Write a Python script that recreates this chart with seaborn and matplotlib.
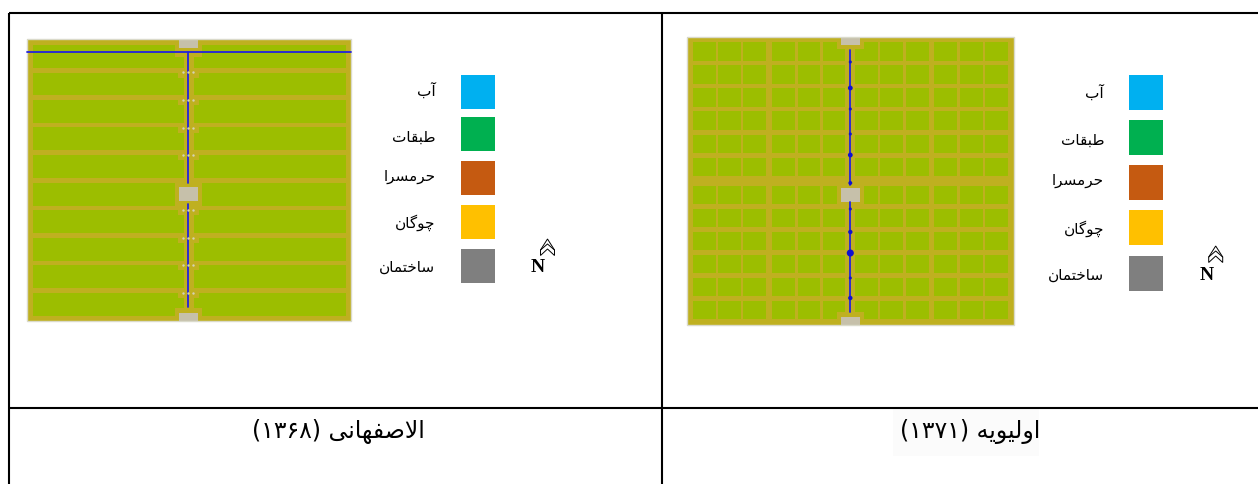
import numpy as np
import matplotlib
matplotlib.use("Agg")
import matplotlib.pyplot as plt
import seaborn as sns
from matplotlib.colors import ListedColormap
from matplotlib.patches import Rectangle, Polygon

# legend + captions
legend_labels = ["آب", "طبقات", "حرمسرا", "چوگان", "ساختمان"]
legend_colors = ["#00B0F0", "#00B050", "#C55A11", "#FFC000", "#7F7F7F"]
captions = ["الاصفهانی", "اولیویه"]
caption_years = ["(۱۳۶۸)", "(۱۳۷۱)"]

# left map, plots (page pixels)
left_box = (27, 351, 39, 321)
left_rows = [(45, 68), (73, 95), (100, 123), (127, 150), (155, 178),
             (183, 206), (210, 233), (238, 261), (265, 288), (293, 316)]
left_cols = [(33, 184), (194, 346)]
left_paths = [(175, 202, 39, 57), (175, 202, 308, 321), (175, 202, 178, 210),
              (178, 199, 68, 78), (178, 199, 95, 105), (178, 199, 123, 133),
              (178, 199, 150, 160), (178, 199, 206, 215), (178, 199, 233, 243),
              (178, 199, 261, 270), (178, 199, 288, 298)]
left_buildings = [(179, 198, 39, 48), (179, 198, 187, 201), (179, 198, 313, 321)]
left_canals = [[(27, 52), (351, 52)], [(188.3, 52), (188.3, 183)], [(188.3, 204), (188.3, 307)]]
left_dot_y = [72, 100, 127.5, 155, 210, 237.5, 265, 292.5]
left_dot_x = [183, 188, 193]

# right map
right_box = (687, 1014, 37, 325)
right_rows = [(42, 61), (65, 84), (88, 107), (111, 130), (135, 153), (158, 176),
              (186, 204), (209, 227), (232, 250), (255, 273), (278, 296), (301, 319)]
right_cols = [(693, 716), (718, 741), (743, 766), (772, 795), (798, 820), (823, 845),
              (855, 878), (880, 903), (906, 929), (934, 957), (960, 983), (985, 1008)]
right_paths = [(837, 864, 37, 49), (837, 864, 312, 325), (837, 864, 176, 204)]
right_buildings = [(841, 860, 37, 45), (841, 860, 188, 202), (841, 860, 317, 325)]
right_canals = [[(850.3, 50), (850.3, 185)], [(850.3, 202), (850.3, 312)]]
right_node_y = [62, 88, 109, 134, 155, 183, 209, 232, 253, 278, 298]
right_node_s = [5, 12, 5, 5, 12, 8, 5, 10, 26, 5, 10]

W, H = 1258, 484
PATH, GREEN, BUILDING = "#BFB020", "#9CBE00", "#C6C0AA"
EDGE, CANAL = "#DADACB", "#2222DD"

# presentation forms: isolated, final, initial, medial
FORMS = {
    "آ": (0xFE81, 0xFE82), "ا": (0xFE8D, 0xFE8E), "ر": (0xFEAD, 0xFEAE), "و": (0xFEED, 0xFEEE),
    "ب": (0xFE8F, 0xFE90, 0xFE91, 0xFE92), "ت": (0xFE95, 0xFE96, 0xFE97, 0xFE98),
    "ح": (0xFEA1, 0xFEA2, 0xFEA3, 0xFEA4), "خ": (0xFEA5, 0xFEA6, 0xFEA7, 0xFEA8),
    "س": (0xFEB1, 0xFEB2, 0xFEB3, 0xFEB4), "ص": (0xFEB9, 0xFEBA, 0xFEBB, 0xFEBC),
    "ط": (0xFEC1, 0xFEC2, 0xFEC3, 0xFEC4), "ف": (0xFED1, 0xFED2, 0xFED3, 0xFED4),
    "ق": (0xFED5, 0xFED6, 0xFED7, 0xFED8), "ل": (0xFEDD, 0xFEDE, 0xFEDF, 0xFEE0),
    "م": (0xFEE1, 0xFEE2, 0xFEE3, 0xFEE4), "ن": (0xFEE5, 0xFEE6, 0xFEE7, 0xFEE8),
    "ه": (0xFEE9, 0xFEEA, 0xFEEB, 0xFEEC), "ی": (0xFBFC, 0xFBFD, 0xFBFE, 0xFBFF),
    "چ": (0xFB7A, 0xFB7B, 0xFB7C, 0xFB7D), "گ": (0xFB92, 0xFB93, 0xFB94, 0xFB95),
}


def shape_fa(word):
    # matplotlib does no Arabic shaping, so pick the joined forms and reverse
    out = []
    joined = False
    i = 0
    while i < len(word):
        ch = word[i]
        if word[i:i + 2] == "لا":
            out.append(chr(0xFEFC if joined else 0xFEFB))
            joined = False
            i += 2
            continue
        forms = FORMS[ch]
        next_ok = len(forms) == 4 and i + 1 < len(word)
        if joined and next_ok:
            out.append(chr(forms[3]))
        elif joined:
            out.append(chr(forms[1]))
        elif next_ok:
            out.append(chr(forms[2]))
        else:
            out.append(chr(forms[0]))
        joined = next_ok
        i += 1
    return "".join(reversed(out))


def draw_map(fig, box, rows, cols, paths, buildings):
    x0, x1, y0, y1 = box
    grid = np.zeros((y1 - y0, x1 - x0), dtype=int)
    for r0, r1 in rows:
        for c0, c1 in cols:
            grid[r0 - y0:r1 - y0, c0 - x0:c1 - x0] = 1
    for c0, c1, r0, r1 in paths:
        grid[r0 - y0:r1 - y0, c0 - x0:c1 - x0] = 0
    for c0, c1, r0, r1 in buildings:
        grid[r0 - y0:r1 - y0, c0 - x0:c1 - x0] = 2
    map_ax = fig.add_axes([x0 / W, 1 - y1 / H, (x1 - x0) / W, (y1 - y0) / H])
    sns.heatmap(grid, cmap=ListedColormap([PATH, GREEN, BUILDING]), vmin=0, vmax=2,
                cbar=False, xticklabels=False, yticklabels=False, ax=map_ax)
    return map_ax


sns.set_style("white")
plt.rcParams["font.family"] = ["DejaVu Sans"]

fig = plt.figure(figsize=(W / 100, H / 100), dpi=100)

draw_map(fig, left_box, left_rows, left_cols, left_paths, left_buildings)
draw_map(fig, right_box, right_rows, right_cols, right_paths, right_buildings)

# page overlay in pixel coordinates
ax = fig.add_axes([0, 0, 1, 1], zorder=5)
ax.patch.set_alpha(0)
ax.set_xlim(0, W)
ax.set_ylim(H, 0)
ax.axis("off")

# map outlines
for x0, x1, y0, y1 in [left_box, right_box]:
    ax.add_patch(Rectangle((x0, y0), x1 - x0, y1 - y0, fill=False, ec=EDGE, lw=1))

# canals
for seg in left_canals + right_canals:
    sns.lineplot(x=[p[0] for p in seg], y=[p[1] for p in seg], sort=False, estimator=None,
                 color=CANAL, lw=1.3, ax=ax)
dots = [(x, y) for y in left_dot_y for x in left_dot_x]
sns.scatterplot(x=[d[0] for d in dots], y=[d[1] for d in dots], s=3, color="#D5D2B5",
                linewidth=0, ax=ax, zorder=6)
ax.scatter([850.3] * len(right_node_y), right_node_y, s=right_node_s, color="#1010D0",
           linewidth=0, zorder=6)
ax.set_xlim(0, W)
ax.set_ylim(H, 0)

# table frame
for xs, ys in [((9, 9), (13, H)), ((662, 662), (13, H)), ((9, W), (13, 13)), ((9, W), (408, 408))]:
    ax.plot(xs, ys, color="black", lw=1.5, solid_capstyle="butt")

# legends
left_swatch_y = [74.5, 117, 161, 205, 248.5]
right_swatch_y = [75, 119.5, 165, 210, 255.5]
left_label_y = [91, 137, 177, 223, 267]
right_label_y = [93, 140, 181, 229, 275]
for swatch_x, text_x, ys, label_ys, side in [(461, 435.5, left_swatch_y, left_label_y, 34),
                                             (1129, 1104, right_swatch_y, right_label_y, 35)]:
    for y, ly, label, color in zip(ys, label_ys, legend_labels, legend_colors):
        ax.add_patch(Rectangle((swatch_x, y), 34, side, fc=color, ec="none"))
        ax.text(text_x, ly, shape_fa(label), ha="right", va="center", fontsize=11, color="black")

# north arrows
for nx, ny, ax_x, ax_y in [(538, 268, 547.5, 239), (1206.5, 276, 1215.7, 246)]:
    ax.text(nx, ny, "N", family="Liberation Serif", weight="bold", fontsize=14,
            ha="center", va="center", color="black")
    outline = [(-7, 11), (0, 0), (7, 11), (7, 16.5), (0, 10), (-7, 16.5)]
    ax.add_patch(Polygon([(ax_x + a, ax_y + b) for a, b in outline], closed=True,
                         fc="white", ec="black", lw=0.7))
    ax.plot([ax_x - 7, ax_x, ax_x + 7], [ax_y + 11, ax_y + 5, ax_y + 11], color="black", lw=0.7)

# captions
ax.add_patch(Rectangle((893, 409), 146, 47, fc="#FBFBFB", ec="none", zorder=0))
for right_x, name, year in zip([424.5, 1040], captions, caption_years):
    ax.text(right_x, 432, year + " " + shape_fa(name), ha="right", va="center",
            fontsize=17, color="black")

fig.savefig("out.png", dpi=100)
